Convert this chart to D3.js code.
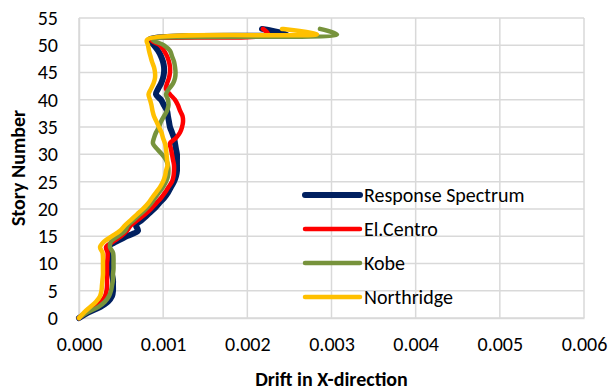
<!DOCTYPE html>
<html>
<head>
<meta charset="utf-8">
<script src="https://cdn.jsdelivr.net/npm/d3@7"></script>
<style>
  body { margin: 0; background: #fff; }
  text { font-family: Carlito, Calibri, Lato, sans-serif; fill: #000; }
</style>
</head>
<body>
<div id="chart"></div>
<script>
// story levels (0 = base, 53 = roof tip)
const stories = d3.range(0, 54)

// drift in X-direction per story, one array per record
const responseSpectrum = [0, .000107, .000250, .000345, .000392, .000404, .000404, .000404, .000392, .000392,
  .000392, .000392, .000380, .000345, .000440, .000570, .000701, .000677, .000749, .000820,
  .000891, .000950, .001010, .001057, .001093, .001129, .001152, .001164, .001164, .001164,
  .001164, .001152, .001141, .001129, .001105, .001081, .001069, .001057, .001046, .001010,
  .000974, .000915, .000939, .000974, .000998, .001010, .001010, .000998, .000974, .000939,
  .000891, .000832, .002471, .002174]
const elCentro = [0, .000083, .000190, .000261, .000309, .000327, .000333, .000333, .000333, .000333,
  .000333, .000339, .000339, .000321, .000404, .000499, .000570, .000618, .000701, .000784,
  .000855, .000915, .000974, .001022, .001063, .001105, .001123, .001129, .001129, .001117,
  .001105, .001093, .001081, .001152, .001200, .001224, .001236, .001230, .001200, .001176,
  .001141, .001081, .001034, .001046, .001069, .001081, .001081, .001069, .001046, .001010,
  .000962, .000855, .002245, .002186]
const kobe = [0, .000095, .000226, .000309, .000356, .000380, .000392, .000404, .000404, .000410,
  .000410, .000410, .000404, .000368, .000380, .000463, .000547, .000582, .000653, .000725,
  .000796, .000855, .000903, .000950, .000998, .001034, .001057, .001063, .001057, .001034,
  .000986, .000927, .000879, .000891, .000915, .000950, .000974, .001010, .001046, .001063,
  .001057, .001034, .001069, .001117, .001141, .001147, .001141, .001129, .001105, .001081,
  .001010, .000879, .003065, .002863]
const northridge = [0, .000059, .000131, .000202, .000250, .000267, .000273, .000279, .000285, .000285,
  .000285, .000285, .000279, .000250, .000297, .000392, .000487, .000547, .000618, .000689,
  .000760, .000820, .000867, .000915, .000962, .000998, .001022, .001034, .001052, .001046,
  .001040, .001034, .001022, .000998, .000980, .000950, .000921, .000891, .000873, .000861,
  .000844, .000826, .000855, .000885, .000903, .000903, .000891, .000867, .000849, .000832,
  .000820, .000808, .002828, .002412]

const seriesNames = ["Response Spectrum", "El.Centro", "Kobe", "Northridge"]
const seriesValues = [responseSpectrum, elCentro, kobe, northridge]
const seriesColors = ["#002060", "#ff0000", "#77933c", "#ffc000"]
const seriesWidths = [6, 4.5, 4.5, 4.5]

const xTicks = [0, 0.001, 0.002, 0.003, 0.004, 0.005, 0.006]
const yTicks = [0, 5, 10, 15, 20, 25, 30, 35, 40, 45, 50, 55]

const width = 611
const height = 390
const margin = {top: 18, right: 27, bottom: 72, left: 79}
const font = "Carlito, Calibri, Lato, sans-serif"

const svg = d3.select("#chart")
  .append("svg")
  .attr("width", width)
  .attr("height", height)

const x = d3.scaleLinear()
  .domain([0, 0.006])
  .range([margin.left, width - margin.right])

const y = d3.scaleLinear()
  .domain([0, 55])
  .range([height - margin.bottom, margin.top])

// gridlines
svg.append("g")
  .selectAll("line")
  .data(yTicks)
  .join("line")
  .attr("x1", x(0)).attr("x2", x(0.006))
  .attr("y1", d => y(d)).attr("y2", d => y(d))
  .attr("stroke", "#d9d9d9")
  .attr("stroke-width", 1.5)

svg.append("g")
  .selectAll("line")
  .data(xTicks)
  .join("line")
  .attr("x1", d => x(d)).attr("x2", d => x(d))
  .attr("y1", y(0)).attr("y2", y(55))
  .attr("stroke", "#d9d9d9")
  .attr("stroke-width", 1.5)

// axes
const xAxis = svg.append("g")
  .attr("transform", `translate(0,${y(0)})`)
  .call(d3.axisBottom(x).tickValues(xTicks).tickFormat(d3.format(".3f")).tickSize(0).tickPadding(19))
xAxis.select(".domain").attr("stroke", "#d9d9d9").attr("stroke-width", 1.5)
xAxis.selectAll("text").style("font-size", "20px").style("font-family", font)

const yAxis = svg.append("g")
  .attr("transform", `translate(${x(0)},0)`)
  .call(d3.axisLeft(y).tickValues(yTicks).tickSize(0).tickPadding(21))
yAxis.select(".domain").attr("stroke", "#d9d9d9").attr("stroke-width", 1.5)
yAxis.selectAll("text").style("font-size", "20px").style("font-family", font)

// axis titles
svg.append("text")
  .attr("x", (x(0) + x(0.006)) / 2)
  .attr("y", 386)
  .attr("text-anchor", "middle")
  .style("font-size", "20px")
  .style("font-weight", "bold")
  .text("Drift in X-direction")

svg.append("text")
  .attr("transform", `translate(25,${(y(0) + y(55)) / 2}) rotate(-90)`)
  .attr("text-anchor", "middle")
  .style("font-size", "20px")
  .style("font-weight", "bold")
  .text("Story Number")

// series lines
const line = d3.line()
  .x(d => x(d[0]))
  .y(d => y(d[1]))
  .curve(d3.curveCatmullRom.alpha(0.5))

seriesValues.forEach((vals, i) => {
  svg.append("path")
    .datum(vals.map((v, k) => [v, stories[k]]))
    .attr("d", line)
    .attr("fill", "none")
    .attr("stroke", seriesColors[i])
    .attr("stroke-width", seriesWidths[i])
    .attr("stroke-linejoin", "round")
    .attr("stroke-linecap", "round")
})

// legend
const legend = svg.append("g")
  .selectAll("g")
  .data(seriesNames)
  .join("g")
  .attr("transform", (d, i) => `translate(305,${195 + i * 34})`)

legend.append("line")
  .attr("x1", 0).attr("x2", 55)
  .attr("stroke", (d, i) => seriesColors[i])
  .attr("stroke-width", (d, i) => seriesWidths[i])
  .attr("stroke-linecap", "round")

legend.append("text")
  .attr("x", 59)
  .attr("dy", "0.35em")
  .style("font-size", "20px")
  .text(d => d)
</script>
</body>
</html>
